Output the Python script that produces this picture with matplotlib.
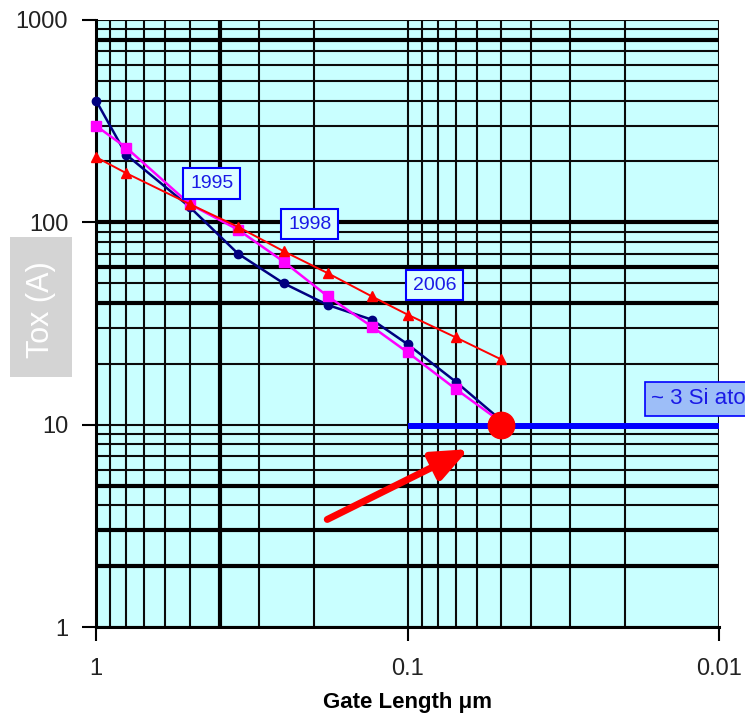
import matplotlib.pyplot as plt
from matplotlib.patches import Rectangle
from matplotlib.ticker import NullFormatter, LogLocator

plt.rcParams["font.family"] = ["Liberation Sans", "DejaVu Sans"]

# ---------- data ----------
GATE_LENGTH = [1, 0.8, 0.5, 0.35, 0.25, 0.18, 0.13, 0.1, 0.07, 0.05]
TOX_NAVY = [400, 216, 119, 70, 50, 39, 33, 25, 16.3, 10.5]
TOX_MAGENTA = [300, 234, 123, 92, 64, 43, 30.5, 22.8, 15, 10.3]
TOX_RED = [210, 175, 123, 95, 72, 56, 43, 35, 27, 21]

YEAR_LABELS = ["1995", "1998", "2006"]
YEAR_X = [0.425, 0.206, 0.082]
YEAR_Y = [156, 98, 49]

LIMIT_X = [0.1, 0.01]
LIMIT_Y = [9.8, 9.8]
LIMIT_LABEL = "~ 3 Si atoms"
POINT_X, POINT_Y = 0.05, 10
ARROW_FROM = (0.181, 3.4)
ARROW_TO = (0.0636, 7.57)

THICK_Y = [800, 100, 60, 40, 5, 3, 2]
THICK_X = [0.4]

BG = "#C9FFFF"

fig = plt.figure(figsize=(7.45, 7.2), dpi=100)
ax = fig.add_axes([96 / 745, 1 - 627 / 720, 623 / 745, 607 / 720])
ax.set_facecolor(BG)

ax.set_xscale("log")
ax.set_yscale("log")
ax.set_xlim(1, 0.01)
ax.set_ylim(1, 1000)

# grid
ax.set_axisbelow(True)
ax.xaxis.set_minor_locator(LogLocator(base=10, subs=range(2, 10)))
ax.yaxis.set_minor_locator(LogLocator(base=10, subs=range(2, 10)))
ax.grid(True, which="both", color="#0a0a0a", linewidth=1.5)
for v in THICK_Y:
    ax.axhline(v, color="#000000", linewidth=3, zorder=0.6)
for v in THICK_X:
    ax.axvline(v, color="#000000", linewidth=3, zorder=0.6)

# series
ax.plot(GATE_LENGTH, TOX_NAVY, color="#000080", lw=1.8, marker="o",
        ms=6, zorder=3, clip_on=False)
ax.plot(GATE_LENGTH, TOX_MAGENTA, color="#FF00FF", lw=1.8, marker="s",
        ms=7, zorder=3.1, clip_on=False)
ax.plot(GATE_LENGTH, TOX_RED, color="#FF0000", lw=1.4, marker="^",
        ms=7, zorder=3.2, clip_on=False)

# limit line and point
ax.plot(LIMIT_X, LIMIT_Y, color="#0000FF", lw=4.3, solid_capstyle="butt",
        zorder=4, clip_on=False)
ax.plot([POINT_X], [POINT_Y], "o", color="#FF0000", ms=19, zorder=5)
ax.annotate("", xy=ARROW_TO, xytext=ARROW_FROM,
            arrowprops=dict(arrowstyle="-|>,head_length=1.8,head_width=0.75",
                            color="#FF0000", lw=5, capstyle="round",
                            mutation_scale=12, shrinkA=0, shrinkB=0),
            zorder=5)

for lab, x, y in zip(YEAR_LABELS, YEAR_X, YEAR_Y):
    ax.text(x, y, lab, ha="center", va="center", fontsize=14, color="#1a1aE6",
            zorder=6,
            bbox=dict(boxstyle="square,pad=0.35", facecolor="#DDFFFF",
                      edgecolor="#0000FF", linewidth=1.5))

ax.text(0.01647, 13.4, LIMIT_LABEL, ha="left", va="center", fontsize=16,
        color="#1a1aE6", zorder=6, clip_on=False,
        bbox=dict(boxstyle="square,pad=0.3", facecolor="#9DBEF8",
                  edgecolor="#0000FF", linewidth=1.2))

# axes styling
ax.set_xticks([1, 0.1, 0.01], ["1", "0.1", "0.01"])
ax.set_yticks([1, 10, 100, 1000], ["1", "10", "100", "1000"])
ax.xaxis.set_minor_formatter(NullFormatter())
ax.yaxis.set_minor_formatter(NullFormatter())
ax.tick_params(which="minor", length=0)
ax.tick_params(which="major", direction="out", length=10, width=1.5,
               labelsize=17, colors="#000000", labelcolor="#222222")
ax.tick_params(axis="y", pad=10)
ax.tick_params(axis="x", pad=12)

for side in ["top", "right"]:
    ax.spines[side].set_visible(False)
for side in ["left", "bottom"]:
    ax.spines[side].set_linewidth(2.2)
    ax.spines[side].set_color("#000000")

ax.set_xlabel("Gate Length μm", fontsize=16, fontweight="bold", labelpad=9)

# y label on grey box
fig.patches.append(Rectangle((10 / 745, 1 - 377 / 720), 62 / 745, 140 / 720,
                             transform=fig.transFigure, facecolor="#D4D4D4",
                             edgecolor="none"))
fig.text(41 / 745, 1 - 310 / 720, "Tox (A)", rotation=90, ha="center",
         va="center", fontsize=22, color="white")

fig.savefig("out.png", dpi=100)
